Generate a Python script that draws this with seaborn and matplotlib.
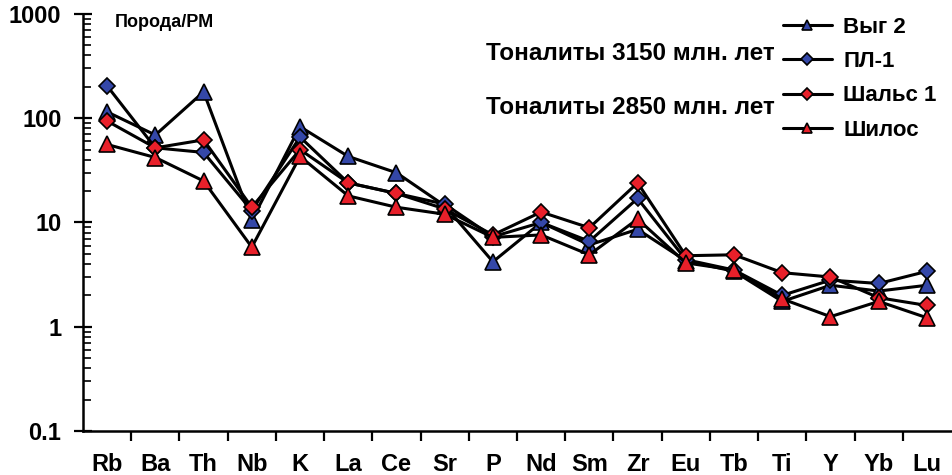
import numpy as np
import pandas as pd
import matplotlib
matplotlib.use("Agg")
import matplotlib.pyplot as plt
import seaborn as sns
from matplotlib.ticker import FixedLocator, LogLocator, NullFormatter

# Spider diagram: rock / primitive mantle
elements = ["Rb", "Ba", "Th", "Nb", "K", "La", "Ce", "Sr", "P", "Nd",
            "Sm", "Zr", "Eu", "Tb", "Ti", "Y", "Yb", "Lu"]

vyg2 = [115, 69, 179, 10.5, 83, 43, 30, 14.5, 4.2, 10.0,
        6.1, 8.6, 4.3, 3.4, 1.75, 2.5, 2.2, 2.5]
pl1 = [204, 52, 47, 13, 66, 24, 19, 15, 7.3, 10.0,
       6.6, 17, 4.4, 3.5, 2.0, 2.8, 2.6, 3.4]
shals1 = [94, 52, 62, 14, 50, 24, 19, 13.5, 7.6, 12.6,
          8.9, 24, 4.8, 4.9, 3.3, 3.0, 1.9, 1.6]
shilos = [56, 42, 25, 5.8, 43, 18, 14, 12, 7.2, 7.6,
          4.9, 10.8, 4.1, 3.5, 1.85, 1.25, 1.75, 1.22]

series_names = ["Выг 2", "ПЛ-1", "Шальс 1", "Шилос"]
series_values = [vyg2, pl1, shals1, shilos]

BLUE = "#3447A8"
RED = "#E8202A"
styles = {
    "Выг 2": dict(marker="^", markerfacecolor=BLUE, markersize=11),
    "ПЛ-1": dict(marker="D", markerfacecolor=BLUE, markersize=8.5),
    "Шальс 1": dict(marker="D", markerfacecolor=RED, markersize=8.5),
    "Шилос": dict(marker="^", markerfacecolor=RED, markersize=11),
}

df = pd.DataFrame({
    "pos": np.tile(np.arange(len(elements)), len(series_names)),
    "value": np.concatenate(series_values),
    "sample": np.repeat(series_names, len(elements)),
})

sns.set_style("ticks")
plt.rcParams["font.family"] = ["Liberation Sans", "DejaVu Sans"]
plt.rcParams["font.weight"] = "bold"
for key in ("text.color", "axes.labelcolor", "xtick.color", "ytick.color",
            "axes.edgecolor"):
    plt.rcParams[key] = "black"

fig = plt.figure(figsize=(9.52, 4.75), dpi=100)
ax = fig.add_axes([0.0872, 0.0926, 0.9118, 0.878])

for name in series_names:
    sub = df[df["sample"] == name]
    sns.lineplot(data=sub, x="pos", y="value", ax=ax, color="black",
                 linewidth=2.2, markeredgecolor="black", markeredgewidth=1.2,
                 label=name, **styles[name])

ax.set_yscale("log")
ax.set_ylim(0.1, 1000)
ax.set_xlim(-0.5, len(elements) - 0.5)

# y axis: decades labelled, minor ticks inside
ax.yaxis.set_major_locator(FixedLocator([0.1, 1, 10, 100, 1000]))
ax.set_yticklabels(["0.1", "1", "10", "100", "1000"])
ax.yaxis.set_minor_locator(LogLocator(base=10, subs=np.arange(2, 10)))
ax.yaxis.set_minor_formatter(NullFormatter())
ax.tick_params(axis="y", which="major", direction="inout", length=13,
               width=1.6, labelsize=17, pad=9)
ax.tick_params(axis="y", which="minor", direction="in", length=6, width=1.2)

# x axis: element names centred, ticks between them
ax.set_xticks(np.arange(len(elements)))
ax.set_xticklabels(elements)
ax.xaxis.set_minor_locator(FixedLocator(np.arange(0.5, len(elements) - 1, 1.0)))
ax.tick_params(axis="x", which="major", length=0, labelsize=17, pad=16)
ax.tick_params(axis="x", which="minor", direction="out", length=7, width=1.6)
for lbl in ax.get_xticklabels() + ax.get_yticklabels():
    lbl.set_fontweight("bold")

ax.set_xlabel("")
ax.set_ylabel("")
sns.despine(ax=ax)
for sp in ("left", "bottom"):
    ax.spines[sp].set_linewidth(1.8)

fig.text(0.121, 0.953, "Порода/РМ", fontsize=13, fontweight="bold",
         va="center", ha="left")
fig.text(0.511, 0.888, "Тоналиты 3150 млн. лет", fontsize=17.5,
         fontweight="bold", va="center", ha="left")
fig.text(0.511, 0.773, "Тоналиты 2850 млн. лет", fontsize=17.5,
         fontweight="bold", va="center", ha="left")

leg = ax.legend(loc="upper left", bbox_to_anchor=(0.8225, 0.965),
                bbox_transform=fig.transFigure, frameon=False,
                handlelength=2.2, handletextpad=0.5, labelspacing=0.6,
                markerscale=0.7, prop={"size": 16, "weight": "bold"},
                borderpad=0.0, borderaxespad=0.0)

fig.savefig("out.png", dpi=100)
